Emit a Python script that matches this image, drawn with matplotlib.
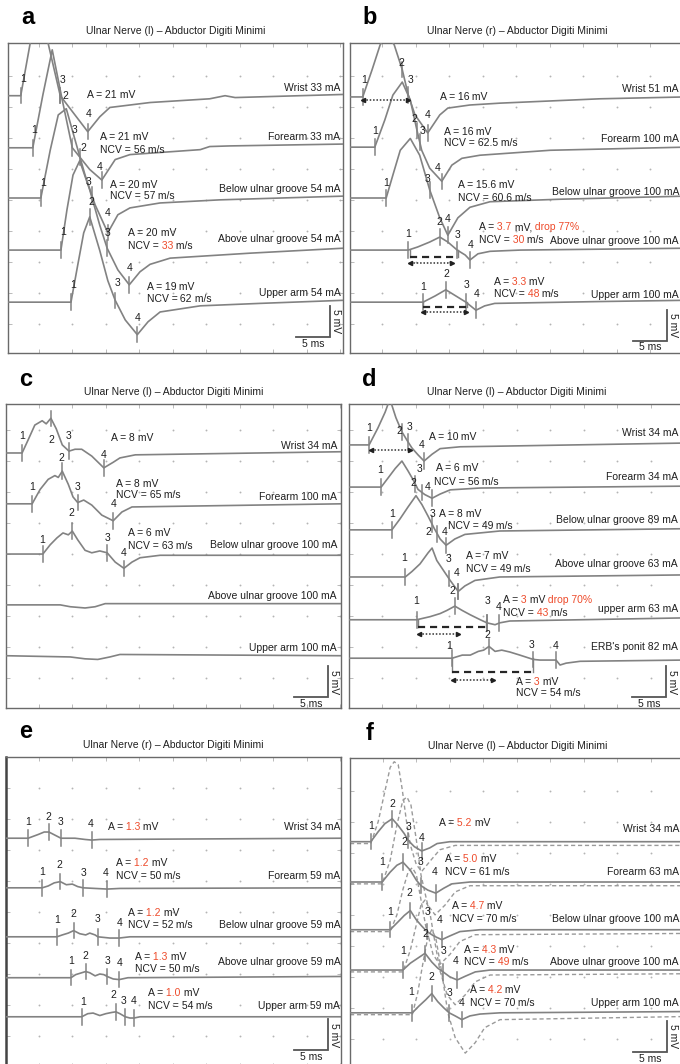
import numpy as np
import matplotlib
matplotlib.use("Agg")
import matplotlib.pyplot as plt

plt.rcParams['font.family'] = ['Liberation Sans', 'DejaVu Sans']

FIG_W, FIG_H = 680, 1064
PX_MS, PX_MV = 6.7, 6.2          # pixels per ms / per mV on the recording grid

TRACE = '#828282'
INK = '#1f1f1f'
RED = '#ee4b2b'
FS = 7.5

TITLE_L = "Ulnar Nerve (l) \u2013 Abductor Digiti Minimi"
TITLE_R = "Ulnar Nerve (r) \u2013 Abductor Digiti Minimi"

# ------------------------------------------------------------------ panel a
a_sites = ["Wrist 33 mA", "Forearm 33 mA", "Below ulnar groove 54 mA",
           "Above ulnar groove 54 mA", "Upper arm 54 mA"]
a_site_y = [-7.3, -15.2, -23.5, -31.6, -40.3]
a_base = [-8.5, -16.9, -25.0, -33.4, -41.8]
a_t = [[0, 1.9, 3.3, 4.8, 6.0, 7.8, 11.9, 13.7, 15.2, 21.2, 30.1, 32.4, 33.9, 50],
       [0, 3.7, 5.2, 6.6, 8.1, 9.6, 12.2, 14.0, 16.0, 18.2, 28.7, 30.1, 33.1, 50],
       [0, 4.9, 6.3, 7.5, 8.7, 10.0, 11.5, 13.0, 14.9, 16.4, 18.2, 22.7, 31.6, 50],
       [0, 7.9, 8.8, 9.7, 10.7, 12.2, 13.7, 14.8, 16.4, 18.1, 19.7, 21.2, 24.2, 36.1, 50],
       [0, 9.4, 10.4, 11.3, 12.2, 13.7, 14.9, 16.0, 17.5, 19.3, 20.9, 22.7, 28.7, 37.6, 50]]
a_v = [[0, 0, 8.4, 15.2, 8.4, 0, -5.8, -3.4, -1.9, -1.1, -0.5, 0, -0.3, 0.2],
       [0, 0, 8.5, 15.8, 7.7, 0, -3.5, -5.2, -1.9, -1.1, -0.3, 0.2, 0.3, 0.6],
       [0, 0, 7.7, 13.4, 14.4, 9.4, 3.7, -1.1, -5.6, -2.7, -1.6, -0.8, -0.3, 0.3],
       [0, 0, 6.5, 12.1, 14.4, 9.7, 4.0, 0.3, -3.2, -5.6, -3.5, -2.3, -1.3, -0.5, 0.3],
       [0, 0, 6.0, 11.3, 13.9, 8.4, 3.5, 0.3, -2.9, -5.3, -3.2, -1.6, -0.6, -0.2, 0.3]]
a_marks = [[("1", 1.9, 2.2, 2.7), ("3", 7.8, 8.1, 2.6), ("2", 7.8, 8.6, 0.0), ("4", 11.9, 12.1, -3.0)],
           [("1", 3.7, 3.9, 2.9), ("3", 9.6, 9.9, 2.9), ("2", 10.7, 11.2, 0.0), ("4", 14.0, 13.7, -3.1)],
           [("1", 4.9, 5.2, 2.4), ("3", 12.5, 12.0, 2.6), ("4", 14.9, 14.9, -2.4)],
           [("1", 7.9, 8.2, 2.9), ("3", 14.8, 14.9, 2.7), ("4", 18.1, 18.1, -2.9)],
           [("1", 9.4, 9.7, 2.7), ("2", 12.2, 12.5, 16.1), ("3", 16.0, 16.3, 3.1), ("4", 19.3, 19.3, -2.6)]]
a_amp = ["21", "21", "20", "20", "19"]
a_amp_red = [False, False, False, False, False]
a_ncv = [None, "56", "57", "33", "62"]
a_ncv_red = [False, False, False, True, False]
a_amp_xy = [(11.8, -8.4), (13.7, -15.2), (15.2, -22.9), (17.9, -30.6), (20.7, -39.4)]
a_ncv_xy = [None, (13.7, -17.3), (15.2, -24.7), (17.9, -32.7), (20.7, -41.3)]

# ------------------------------------------------------------------ panel b
b_sites = ["Wrist 51 mA", "Forearm 100 mA", "Below ulnar groove 100 mA",
           "Above ulnar groove 100 mA", "Upper arm 100 mA"]
b_site_y = [-7.4, -15.5, -24.0, -31.9, -40.6]
b_base = [-8.7, -16.8, -25.0, -33.4, -41.8]
b_t = [[0, 1.9, 3.3, 4.5, 5.5, 6.6, 7.8, 8.7, 9.7, 11.6, 13.4, 14.6, 17.9, 22.4, 37.3, 50],
       [0, 3.7, 5.2, 6.4, 7.8, 9.0, 10.0, 10.7, 11.9, 13.7, 15.2, 16.7, 19.4, 29.9, 50],
       [0, 5.4, 6.4, 7.5, 9.0, 10.4, 11.9, 13.4, 14.6, 16.1, 17.9, 20.9, 31.3, 50],
       [0, 8.7, 10.1, 11.9, 13.4, 14.6, 16.0, 17.2, 17.9, 19.1, 20.9, 25.4, 50],
       [0, 10.9, 12.7, 14.3, 15.8, 17.3, 18.8, 20.1, 21.6, 37.3, 50]]
b_v = [[0, 0, 4.4, 8.4, 10.2, 8.4, 4.4, 0.3, -2.9, -5.8, -2.9, -1.8, -1.3, -1.0, -0.3, 0],
       [0, 0, 4.4, 8.4, 10.5, 7.6, 2.7, -0.5, -3.4, -5.5, -2.9, -1.8, -1.3, -0.5, 0],
       [0, 0, 3.7, 7.7, 9.6, 6.9, 1.3, -3.2, -6.0, -3.2, -1.5, -0.6, -0.2, 0.3],
       [0, 0, 0.5, 1.3, 2.1, 1.3, 0, -0.8, -1.6, -0.6, -0.2, 0, 0.3],
       [0, 0, 1.0, 2.0, 1.0, 0, -1.3, -0.6, -0.2, 0.1, 0.3]]
b_marks = [[("1", 1.9, 2.1, 2.7), ("2", 7.8, 7.6, 5.4), ("3", 8.7, 9.1, 2.7), ("4", 11.6, 11.6, -2.9)],
           [("1", 3.7, 3.7, 2.6), ("2", 10.0, 9.6, 4.5), ("3", 10.4, 10.8, 2.6), ("4", 13.7, 13.1, -3.4)],
           [("1", 5.4, 5.4, 2.4), ("3", 11.9, 11.6, 3.1), ("4", 14.6, 14.5, -3.4)],
           [("1", 8.7, 8.7, 2.6), ("2", 13.4, 13.3, 4.5), ("3", 16.0, 16.1, 2.4), ("4", 17.9, 18.0, 0.9)],
           [("1", 10.9, 10.9, 2.4), ("2", 14.3, 14.4, 4.5), ("3", 17.3, 17.4, 2.7), ("4", 18.8, 18.9, 1.3)]]
b_amp = ["16", "16", "15.6", "3.7", "3.3"]
b_amp_red = [False, False, False, True, True]
b_drop = [None, None, None, (",", "drop 77%"), None]
b_ncv = [None, "62.5", "60.6", "30", "48"]
b_ncv_red = [False, False, False, True, True]
b_amp_xy = [(13.4, -8.7), (14.0, -14.4), (16.1, -22.9), (19.3, -29.7), (21.5, -38.5)]
b_ncv_xy = [None, (14.0, -16.1), (16.1, -25.0), (19.3, -31.8), (21.5, -40.5)]
b_dash = [None, None, None, (9.0, 16.1, -1.1), (10.9, 17.5, -0.8)]
b_dot = [(1.9, 8.7, -0.5), None, None, (9.0, 15.2, -2.1), (10.9, 17.3, -1.6)]

# ------------------------------------------------------------------ panel c
c_sites = ["Wrist 34 mA", "Forearm 100 mA", "Below ulnar groove 100 mA",
           "Above ulnar groove 100 mA", "Upper arm 100 mA"]
c_site_y = [-6.8, -15.0, -22.7, -31.0, -39.4]
c_base = [-7.9, -16.1, -24.2, -32.4, -40.6]
c_t = [[0, 2.4, 3.3, 4.3, 5.4, 6.0, 6.7, 7.5, 8.4, 9.4, 10.3, 11.3, 12.8, 14.6, 16.0, 17.0, 19.3, 50],
       [0, 3.9, 5.1, 6.3, 7.3, 7.8, 8.4, 9.3, 10.0, 10.7, 11.6, 12.8, 14.3, 16.0, 17.3, 18.8, 50],
       [0, 5.5, 6.6, 7.6, 8.5, 9.3, 9.9, 10.7, 11.8, 12.8, 14.0, 15.1, 16.3, 17.6, 18.8, 20.0, 23.0, 50],
       [0, 8.1, 9.6, 11.8, 13.3, 14.8, 17.0, 50],
       [0, 9.6, 11.8, 13.7, 15.5, 17.0, 50]]
c_v = [[0, 0, 2.1, 4.5, 5.2, 4.7, 5.6, 3.9, 1.3, 0.3, 0.6, 0.6, -0.5, -2.4, -1.5, -0.8, -0.3, 0.2],
       [0, 0, 2.3, 3.9, 4.5, 4.2, 5.2, 3.1, 1.1, 0.2, 0.6, -0.2, -1.8, -2.7, -1.3, -0.5, 0],
       [0, 0, 1.5, 2.6, 3.4, 3.1, 3.7, 2.3, 0.6, 0.2, 0.5, 0.2, -1.3, -2.3, -1.3, -0.6, -0.2, -0.2],
       [0, 0, -0.3, -0.5, -0.3, 0.2, 0.2, 0.2],
       [0, -0.2, -0.5, -0.6, -0.2, 0.2, 0]]
c_marks = [[("1", 2.4, 2.4, 2.7), ("2", 6.7, 6.7, 2.1), ("3", 9.4, 9.4, 2.7), ("4", 14.6, 14.6, -0.3)],
           [("1", 3.9, 3.9, 2.7), ("2", 8.4, 8.2, 7.4), ("3", 10.7, 10.7, 2.7), ("4", 16.0, 16.0, 0.0)],
           [("1", 5.5, 5.4, 2.3), ("2", 9.9, 9.7, 6.6), ("3", 15.1, 15.1, 2.6), ("4", 17.6, 17.5, 0.2)],
           [], []]
c_amp = ["8", "8", "6", None, None]
c_amp_red = [False] * 5
c_ncv = [None, "65", "63", None, None]
c_ncv_red = [False] * 5
c_amp_xy = [(15.7, -5.5), (16.4, -12.9), (18.2, -20.8), None, None]
c_ncv_xy = [None, (16.4, -14.7), (18.2, -22.9), None, None]

# ------------------------------------------------------------------ panel d
d_sites = ["Wrist 34 mA", "Forearm 34 mA", "Below ulnar groove 89 mA",
           "Above ulnar groove 63 mA", "upper arm 63 mA", "ERB's ponit 82 mA"]
d_site_y = [-4.7, -11.8, -18.7, -25.8, -33.1, -39.2]
d_base = [-6.6, -13.4, -20.3, -27.9, -34.8, -41.0]
d_t = [[0, 3.0, 4.3, 5.4, 6.1, 7.0, 7.9, 8.8, 9.4, 10.3, 11.2, 12.4, 13.6, 16.6, 22.5, 50],
       [0, 4.8, 5.8, 6.9, 7.9, 8.8, 9.6, 10.3, 11.3, 12.4, 13.6, 15.1, 19.6, 50],
       [0, 6.4, 7.6, 8.8, 10.0, 10.9, 11.8, 12.7, 13.6, 14.5, 15.8, 17.3, 22.5, 50],
       [0, 8.4, 9.4, 10.6, 11.8, 12.4, 13.1, 14.2, 15.1, 16.3, 17.3, 18.8, 22.5, 50],
       [0, 10.1, 12.1, 13.6, 14.6, 15.8, 16.9, 18.1, 19.6, 20.6, 21.8, 22.5, 24.0, 50],
       [0, 15.4, 16.9, 18.1, 19.3, 20.1, 20.9, 21.8, 22.8, 24.0, 25.5, 27.5, 28.5, 29.7,
        30.9, 31.5, 32.4, 34.5, 50]]
d_v = [[0, 0, 2.7, 5.3, 7.4, 4.4, 2.1, 0.5, -0.5, -1.6, -2.6, -1.5, -0.6, -0.3, -0.2, 0.3],
       [0, 0, 1.9, 4.0, 5.6, 3.5, 1.5, -0.5, -1.6, -2.4, -1.5, -0.6, -0.2, 0.2],
       [0, 0, 1.9, 4.0, 6.0, 4.4, 2.4, 0.3, -1.6, -2.7, -1.6, -0.8, -0.2, 0.2],
       [0, 0, 0.8, 1.9, 3.5, 4.2, 2.4, 0.8, -0.5, -2.1, -1.3, -0.5, 0, 0.3],
       [0, 0, 0.5, 1.0, 1.5, 2.2, 1.5, 0.8, 0, -0.5, -0.8, -0.5, -0.2, 0.3],
       [0, 0, 0.5, 0.5, 1.1, 1.3, 1.9, 1.1, 1.3, 1.0, 0.5, -0.2, -0.3, -0.3,
        -0.3, -1.1, -0.8, -0.5, -0.3]]
d_marks = [[("1", 3.0, 3.0, 2.7), ("2", 7.9, 7.5, 2.3), ("3", 8.8, 9.1, 2.9), ("4", 11.2, 10.9, 0.0)],
           [("1", 4.8, 4.6, 2.7), ("2", 9.9, 9.6, 0.6), ("3", 10.9, 10.6, 2.9), ("4", 12.4, 11.8, 0.0)],
           [("1", 6.4, 6.4, 2.6), ("3", 12.4, 12.5, 2.6), ("2", 13.2, 11.9, -0.3), ("4", 14.5, 14.2, -0.3)],
           [("1", 8.4, 8.2, 3.1), ("3", 14.9, 14.9, 2.9), ("4", 16.3, 16.1, 0.6), ("2", 16.3, 15.4, -2.3)],
           [("1", 10.1, 10.0, 3.1), ("", 15.8, 0, 0), ("3", 20.6, 20.7, 3.1), ("2", 20.6, 20.7, -2.5),
            ("4", 22.4, 22.4, 2.1)],
           [("1", 15.4, 14.9, 1.9), ("", 20.9, 0, 0), ("3", 27.5, 27.2, 2.1), ("4", 30.9, 30.9, 1.9)]]
d_amp = ["10", "6", "8", "7", "3", "3"]
d_amp_red = [False, False, False, False, True, True]
d_drop = [None, None, None, None, ("", "drop 70%"), None]
d_ncv = [None, "56", "49", "49", "43", "54"]
d_ncv_red = [False, False, False, False, True, False]
d_amp_xy = [(11.9, -5.3), (13.0, -10.3), (13.4, -17.7), (17.5, -24.5), (23.0, -31.6), (24.9, -44.8)]
d_ncv_xy = [None, (12.7, -12.6), (14.8, -19.7), (17.5, -26.6), (23.0, -33.7), (24.9, -46.6)]
d_dash = [None, None, None, None, (10.3, 20.4, -1.1), (15.4, 27.5, -2.3)]
d_dot = [(3.3, 9.1, -0.8), None, None, None, (10.4, 16.3, -2.3), (15.5, 21.5, -3.5)]

# ------------------------------------------------------------------ panel e
e_sites = ["Wrist 34 mA", "Forearm 59 mA", "Below ulnar groove 59 mA",
           "Above ulnar groove 59 mA", "Upper arm 59 mA"]
e_site_y = [-11.3, -19.2, -27.1, -33.1, -40.2]
e_base = [-13.1, -21.1, -29.0, -35.6, -41.9]
e_t = [[0, 3.3, 4.8, 5.7, 6.4, 7.3, 8.2, 10.3, 11.8, 12.8, 14.0, 50],
       [0, 5.4, 6.3, 7.2, 8.1, 9.0, 9.9, 10.7, 11.5, 13.3, 15.1, 17.0, 50],
       [0, 7.6, 8.4, 9.3, 10.1, 11.0, 11.9, 12.5, 13.3, 13.7, 15.5, 16.9, 18.5, 50],
       [0, 9.7, 10.4, 11.3, 11.9, 12.5, 13.3, 14.0, 14.6, 15.1, 16.0, 16.9, 18.2, 50],
       [0, 11.3, 12.2, 13.0, 14.0, 14.9, 15.8, 16.4, 17.0, 17.8, 18.5, 19.1, 20.0, 50]]
e_v = [[0, 0, 0.6, 1.0, 1.0, 0.5, 0, 0, -0.2, -0.3, -0.2, 0],
       [0, 0, 0.3, 0.8, 1.0, 0.5, 0.6, 0.2, 0, -0.1, -0.2, -0.1, 0],
       [0, 0, 0.3, 0.6, 1.0, 0.5, 0.3, 0.6, 0.3, 0, -0.2, -0.2, 0, 0],
       [0, 0, 0.5, 0.8, 1.0, 0.8, 0.3, 0.6, 0.5, 0.2, -0.2, -0.3, 0, 0.2],
       [0, 0, 0.5, 0.6, 0.2, 0.5, 0.7, 0.8, 0.5, 0, -0.2, -0.2, 0, 0]]
e_marks = [[("1", 3.3, 3.3, 2.6), ("2", 6.4, 6.3, 3.4), ("3", 8.2, 8.2, 2.6), ("4", 12.8, 12.7, 2.3)],
           [("1", 5.4, 5.4, 2.6), ("2", 8.1, 7.9, 3.7), ("3", 11.5, 11.5, 2.4), ("4", 15.1, 14.9, 2.4)],
           [("1", 7.6, 7.6, 2.7), ("2", 10.1, 10.1, 3.7), ("3", 13.7, 13.7, 2.9), ("4", 16.9, 16.9, 2.3)],
           [("1", 9.7, 9.7, 2.7), ("2", 11.9, 11.8, 3.5), ("3", 15.1, 15.1, 2.7), ("4", 16.9, 16.9, 2.4)],
           [("1", 11.3, 11.5, 2.4), ("2", 16.4, 16.1, 3.5), ("3", 17.8, 17.6, 2.6), ("4", 19.1, 19.0, 2.6)]]
e_amp = ["1.3", "1.2", "1.2", "1.3", "1.0"]
e_amp_red = [True] * 5
e_ncv = [None, "50", "52", "50", "54"]
e_ncv_red = [False] * 5
e_amp_xy = [(15.2, -11.3), (16.4, -17.1), (18.2, -25.2), (19.3, -32.3), (21.2, -38.1)]
e_ncv_xy = [None, (16.4, -19.2), (18.2, -27.1), (19.3, -34.2), (21.2, -40.2)]

# ------------------------------------------------------------------ panel f
f_sites = ["Wrist 34 mA", "Forearm 63 mA", "Below ulnar groove 100 mA",
           "Above ulnar groove 100 mA", "Upper arm 100 mA"]
f_site_y = [-11.5, -18.4, -26.0, -32.9, -39.5]
f_base = [-13.5, -20.0, -27.7, -34.2, -41.1]
f_t = [[0, 3.1, 4.2, 5.2, 6.3, 7.2, 8.1, 8.7, 9.6, 10.7, 11.9, 13.0, 14.9, 50],
       [0, 4.8, 6.0, 7.0, 7.9, 9.0, 9.9, 10.6, 11.6, 12.8, 14.0, 15.2, 17.9, 50],
       [0, 6.0, 7.2, 8.1, 9.0, 9.9, 10.7, 11.5, 12.5, 13.7, 14.9, 16.4, 19.4, 50],
       [0, 7.9, 9.0, 10.1, 11.2, 12.2, 13.1, 13.9, 14.9, 16.0, 17.2, 18.7, 20.9, 50],
       [0, 9.3, 10.3, 11.3, 12.2, 13.1, 14.0, 14.8, 15.7, 16.7, 17.9, 19.4, 22.4, 50]]
f_v = [[0, 0, 1.6, 2.9, 3.7, 2.6, 1.3, 0.2, -0.8, -1.5, -1.0, -0.3, 0, 0],
       [0, 0, 1.6, 2.7, 3.2, 1.9, 0.3, -0.6, -1.3, -1.8, -1.0, -0.3, 0, 0],
       [0, 0, 1.3, 2.3, 3.1, 1.6, 0.6, -0.3, -1.0, -1.6, -1.0, -0.3, 0, 0],
       [0, 0, 1.1, 1.9, 2.7, 1.3, 0.3, -0.3, -1.1, -1.6, -1.0, -0.3, 0, 0],
       [0, 0, 1.1, 2.1, 3.1, 1.8, 0.8, 0, -0.5, -1.1, -0.5, -0.2, 0, 0.2]]
# reference (normal-side) responses overlaid as dashed curves
f_ref_t = [[0, 3.1, 4.2, 5.1, 6.0, 6.6, 7.2, 7.8, 8.4, 9.0, 9.9, 10.7, 11.9, 13.4, 15.7, 50],
           [0, 4.8, 6.0, 7.0, 7.9, 8.5, 9.1, 9.9, 10.6, 11.6, 12.7, 14.2, 15.7, 17.9, 50],
           [0, 6.0, 7.0, 7.9, 8.7, 9.3, 9.9, 10.6, 11.3, 12.4, 13.4, 14.9, 16.4, 18.7, 50],
           [0, 7.9, 9.0, 9.9, 10.6, 11.2, 11.8, 12.5, 13.4, 14.5, 15.7, 17.2, 18.7, 20.9, 50],
           [0, 9.3, 10.1, 10.9, 11.6, 12.2, 12.8, 13.7, 14.6, 15.7, 17.2, 18.7, 20.1, 22.4, 50]]
f_ref_v = [[-0.3, -0.3, 3.2, 7.6, 12.0, 12.9, 12.4, 8.4, 3.5, -0.5, -3.7, -4.8, -3.2, -1.3, -0.6, -0.6],
           [-0.3, -0.3, 3.5, 9.2, 13.2, 13.7, 12.4, 6.8, 1.1, -3.7, -5.3, -3.7, -1.6, -0.6, -0.6],
           [-0.3, -0.3, 2.4, 6.5, 9.4, 10.0, 8.9, 4.8, 0.6, -4.0, -5.6, -4.0, -1.9, -0.8, -0.6],
           [-0.3, -0.3, 3.2, 7.3, 10.5, 11.3, 10.0, 5.6, 0, -4.0, -5.6, -4.0, -1.9, -0.8, -0.6],
           [-0.3, -0.3, 3.2, 8.1, 12.1, 13.4, 12.1, 6.5, 0, -4.0, -6.5, -4.8, -2.4, -1.1, -0.6]]
f_marks = [[("1", 3.1, 3.1, 2.6), ("2", 6.3, 6.3, 6.0), ("3", 8.7, 8.7, 2.4), ("4", 10.7, 10.7, 0.6)],
           [("1", 4.8, 4.8, 3.2), ("2", 7.9, 8.1, 6.5), ("3", 10.6, 10.6, 3.2), ("4", 12.8, 12.7, 1.6)],
           [("1", 6.0, 6.0, 2.9), ("2", 9.0, 8.8, 5.9), ("3", 11.5, 11.5, 2.9), ("4", 13.7, 13.4, 1.5)],
           [("1", 7.9, 7.9, 3.1), ("2", 11.2, 11.3, 5.8), ("3", 13.9, 13.9, 3.1), ("4", 16.0, 15.8, 1.5)],
           [("1", 9.3, 9.1, 3.4), ("2", 12.2, 12.2, 5.8), ("3", 14.8, 14.8, 3.2), ("4", 16.7, 16.7, 1.6)]]
f_amp = ["5.2", "5.0", "4.7", "4.3", "4.2"]
f_amp_red = [True] * 5
f_ncv = [None, "61", "70", "49", "70"]
f_ncv_red = [False, False, False, True, False]
f_amp_xy = [(13.3, -10.5), (14.2, -16.3), (15.2, -23.9), (17.0, -31.0), (17.9, -37.4)]
f_ncv_xy = [None, (14.2, -18.4), (15.2, -26.0), (17.0, -32.9), (17.9, -39.5)]

# scale bar values
BAR_MS = 5
BAR_MV = 5


def rich_text(ax, x, y, parts):
    """Draw consecutive text pieces of different colours on one line."""
    txt = ax.text(x, y, parts[0][0], color=parts[0][1], fontsize=FS,
                  ha='left', va='center')
    for s, c in parts[1:]:
        txt = ax.annotate(s, xy=(1, 0), xycoords=txt, ha='left', va='bottom',
                          color=c, fontsize=FS)
    return txt


def scaled(v, amp):
    v = np.asarray(v, dtype=float)
    if amp is None:
        return v
    return v * float(amp) / (v.max() - v.min())


def draw_panel(p):
    L, T, w, h = p['box']
    ax = fig.add_axes([L / FIG_W, 1 - (T + h) / FIG_H, w / FIG_W, h / FIG_H])
    xmax, ymin = w / PX_MS, -h / PX_MV
    ax.set_xlim(0, xmax)
    ax.set_ylim(ymin, 0)
    for sp in ax.spines.values():
        sp.set_color('#6a6a6a')
        sp.set_linewidth(1.0)
    if p.get('thick_left'):
        ax.spines['left'].set_linewidth(1.8)
        ax.spines['left'].set_color('#444444')

    # dotted calibration grid
    cols = np.arange(p['col0'], xmax, 5.0)
    rows = np.arange(p['row0'], ymin, -5.0)
    gx, gy = np.meshgrid(cols, rows)
    ax.scatter(gx.ravel(), gy.ravel(), s=1.8, color='#b4b4b4', lw=0, zorder=1)
    ax.set_xticks(cols)
    ax.set_yticks(rows)
    ax.tick_params(which='both', direction='in', length=3, width=0.6,
                   colors='#b0b0b0', top=True, bottom=True, left=True, right=True,
                   labelbottom=False, labelleft=False)

    n = len(p['t'])
    for i in range(n):
        base = p['base'][i]
        t = np.asarray(p['t'][i], float)
        v = scaled(p['v'][i], p['amp'][i])
        if p.get('ref_t') is not None:
            rv = np.asarray(p['ref_v'][i], float)
            ax.plot(p['ref_t'][i], rv + base, color='#9a9a9a', lw=1.0,
                    ls=(0, (3, 2)), zorder=2)
        ax.plot(t, v + base, color=TRACE, lw=1.2, zorder=3, solid_joinstyle='round')

        # latency markers
        for lab, tm, lx, ly in p['marks'][i]:
            ym = np.interp(tm, t, v) + base
            ax.plot([tm, tm], [ym - 1.25, ym + 1.25], color=TRACE, lw=1.1, zorder=3)
            if lab:
                ax.text(lx, ly + base, lab, fontsize=FS, color=INK,
                        ha='center', va='center', zorder=5)

        # duration brackets
        dash = p.get('dash', [None] * n)[i]
        dot = p.get('dot', [None] * n)[i]
        if dash is not None:
            x0, x1, dy = dash
            ax.plot([x0, x1], [base + dy] * 2, color='#262626', lw=1.6,
                    ls=(0, (3.2, 2.2)), zorder=4)
            for xx in (x0, x1):
                ax.plot([xx, xx], [base, base + dy], color=TRACE, lw=1.0, zorder=3)
        if dot is not None:
            x0, x1, dy = dot
            ax.plot([x0, x1], [base + dy] * 2, color='#303030', lw=1.1,
                    ls=(0, (1, 1.2)), zorder=4)
            ax.plot([x0], [base + dy], marker='<', ms=3, color='#202020', zorder=4)
            ax.plot([x1], [base + dy], marker='>', ms=3, color='#202020', zorder=4)

        # amplitude / conduction-velocity notes
        if p['amp_xy'][i] is not None:
            parts = [("A =", INK),
                     (" " + p['amp'][i], RED if p['amp_red'][i] else INK)]
            drop = p.get('drop', [None] * n)[i]
            if drop is None:
                parts.append((" mV", INK))
            else:
                parts.append((" mV" + drop[0], INK))
                parts.append((" " + drop[1], RED))
            rich_text(ax, *p['amp_xy'][i], parts)
        if p['ncv_xy'][i] is not None:
            parts = [("NCV =", INK),
                     (" " + p['ncv'][i], RED if p['ncv_red'][i] else INK),
                     (" m/s", INK)]
            rich_text(ax, *p['ncv_xy'][i], parts)

    for s, y in zip(p['sites'], p['site_y']):
        ax.text(p['site_x'], y, s, fontsize=FS, color=INK, ha='right', va='center')

    # calibration bar
    xb, yb = p['bar_x'], p['bar_y']
    ax.plot([xb - BAR_MS, xb, xb], [yb, yb, yb + BAR_MV], color='#555555', lw=1.3,
            solid_joinstyle='miter', zorder=4)
    ax.text(xb + 0.2, yb + BAR_MV / 2, f"{BAR_MV} mV", rotation=270, fontsize=FS,
            ha='left', va='center', color=INK)
    ax.text(xb - BAR_MS / 2, yb - 1.1, f"{BAR_MS} ms", fontsize=FS,
            ha='center', va='center', color=INK)

    fig.text((L + 20) / FIG_W, 1 - (T - 25) / FIG_H, p['letter'], fontsize=17,
             fontweight='bold', ha='center', va='center', color='black')
    fig.text((L + w / 2) / FIG_W, 1 - (T - 12) / FIG_H, p['title'], fontsize=FS,
             ha='center', va='center', color=INK)


fig = plt.figure(figsize=(FIG_W / 100, FIG_H / 100), dpi=100)
fig.patch.set_facecolor('white')

panels = [
    dict(letter='a', box=(8, 43, 335, 310), title=TITLE_L, col0=4.6, row0=-5.3,
         bar_x=48.0, bar_y=-47.4,
         sites=a_sites, site_y=a_site_y, site_x=49.6, base=a_base, t=a_t, v=a_v, marks=a_marks,
         amp=a_amp, amp_red=a_amp_red, ncv=a_ncv, ncv_red=a_ncv_red,
         amp_xy=a_amp_xy, ncv_xy=a_ncv_xy),
    dict(letter='b', box=(350, 43, 335, 310), title=TITLE_R, col0=4.8, row0=-5.3,
         bar_x=47.3, bar_y=-48.0,
         sites=b_sites, site_y=b_site_y, site_x=49.1, base=b_base, t=b_t, v=b_v, marks=b_marks,
         amp=b_amp, amp_red=b_amp_red, drop=b_drop, ncv=b_ncv, ncv_red=b_ncv_red,
         amp_xy=b_amp_xy, ncv_xy=b_ncv_xy, dash=b_dash, dot=b_dot),
    dict(letter='c', box=(6, 404, 335, 304), title=TITLE_L, col0=4.9, row0=-4.2,
         bar_x=48.0, bar_y=-47.3,
         sites=c_sites, site_y=c_site_y, site_x=49.4, base=c_base, t=c_t, v=c_v, marks=c_marks,
         amp=c_amp, amp_red=c_amp_red, ncv=c_ncv, ncv_red=c_ncv_red,
         amp_xy=c_amp_xy, ncv_xy=c_ncv_xy),
    dict(letter='d', box=(349, 404, 335, 304), title=TITLE_L, col0=5.0, row0=-4.2,
         bar_x=47.3, bar_y=-47.3,
         sites=d_sites, site_y=d_site_y, site_x=49.1, base=d_base, t=d_t, v=d_v, marks=d_marks,
         amp=d_amp, amp_red=d_amp_red, drop=d_drop, ncv=d_ncv, ncv_red=d_ncv_red,
         amp_xy=d_amp_xy, ncv_xy=d_ncv_xy, dash=d_dash, dot=d_dot),
    dict(letter='e', box=(6, 757, 335, 310), title=TITLE_R, col0=4.9, row0=-5.0,
         bar_x=48.0, bar_y=-47.3, thick_left=True,
         sites=e_sites, site_y=e_site_y, site_x=49.9, base=e_base, t=e_t, v=e_v, marks=e_marks,
         amp=e_amp, amp_red=e_amp_red, ncv=e_ncv, ncv_red=e_ncv_red,
         amp_xy=e_amp_xy, ncv_xy=e_ncv_xy),
    dict(letter='f', box=(350, 758, 335, 310), title=TITLE_L, col0=4.9, row0=-5.3,
         bar_x=47.3, bar_y=-47.4,
         sites=f_sites, site_y=f_site_y, site_x=49.1, base=f_base, t=f_t, v=f_v, marks=f_marks,
         amp=f_amp, amp_red=f_amp_red, ncv=f_ncv, ncv_red=f_ncv_red,
         amp_xy=f_amp_xy, ncv_xy=f_ncv_xy, ref_t=f_ref_t, ref_v=f_ref_v),
]

for p in panels:
    draw_panel(p)

fig.savefig("out.png", dpi=100, facecolor='white')
